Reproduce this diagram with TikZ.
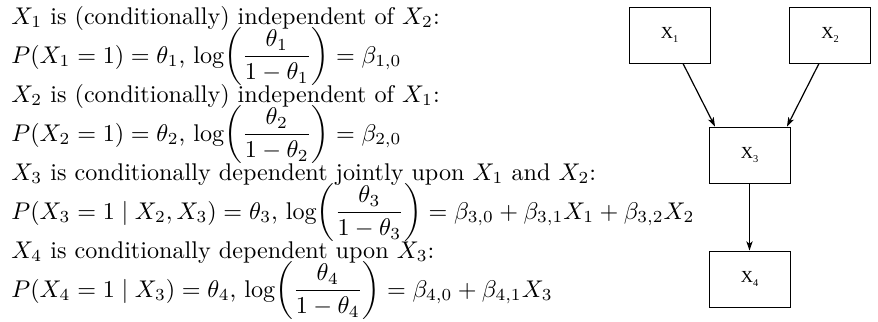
\documentclass[tikz,border=0pt]{standalone}
\usepackage{amsmath}
\usepackage{fontspec}
\newfontfamily\boxfont{Liberation Serif}
\usetikzlibrary{arrows.meta,calc}
\def\pxu{0.414}
\newcommand\varlabel[1]{X\raisebox{-0.4ex}{\fontsize{4.3}{5}\selectfont #1}}
\newcommand\logit[1]{\log\biggl(\dfrac{\theta_#1}{1-\theta_#1}\biggr)}
\begin{document}
\begin{tikzpicture}[x=\pxu pt, y=-\pxu pt,
  var/.style={draw, line width=0.4pt, minimum width={81*\pxu pt}, minimum height={56*\pxu pt},
    inner sep=0pt, font=\boxfont\fontsize{7}{8}\selectfont},
  edge/.style={line width=0.5pt, -{Stealth[length=3.8pt,width=2.6pt,inset=1pt]}},
  txt/.style={inner sep=0pt, anchor=base west}]
\useasboundingbox (0,0) rectangle (878,321);
\node[txt] (l1) at (11,24) {$X_1$ is (conditionally) independent of $X_2$:};
\node[txt] (l2) at (11,63) {$P(X_1 = 1) = \theta_1$, $\logit{1} = \beta_{1,0}$};
\node[txt] (l3) at (11,102) {$X_2$ is (conditionally) independent of $X_1$:};
\node[txt] (l4) at (11,141) {$P(X_2 = 1) = \theta_2$, $\logit{2} = \beta_{2,0}$};
\node[txt] (l5) at (11,180) {$X_3$ is conditionally dependent jointly upon $X_1$ and $X_2$:};
\node[txt] (l6) at (11,219) {$P(X_3 = 1 \mid X_2, X_3) = \theta_3$, $\logit{3} = \beta_{3,0} + \beta_{3,1}X_1 + \beta_{3,2}X_2$};
\node[txt] (l7) at (11,258) {$X_4$ is conditionally dependent upon $X_3$:};
\node[txt] (l8) at (11,297) {$P(X_4 = 1 \mid X_3) = \theta_4$, $\logit{4} = \beta_{4,0} + \beta_{4,1}X_3$};
\node[var] (X1) at (669.5,35) {\varlabel{1}};
\node[var] (X2) at (830,35) {\varlabel{2}};
\node[var] (X3) at (749.5,155) {\varlabel{3}};
\node[var] (X4) at (749.5,279) {\varlabel{4}};
\draw[edge] ($(X1.south)+(13.5,0)$) -- ($(X3.north)+(-34.5,0)$);
\draw[edge] ($(X2.south)+(-11,0)$) -- ($(X3.north)+(37.5,0)$);
\draw[edge] (X3) -- (X4);
\end{tikzpicture}
\end{document}
